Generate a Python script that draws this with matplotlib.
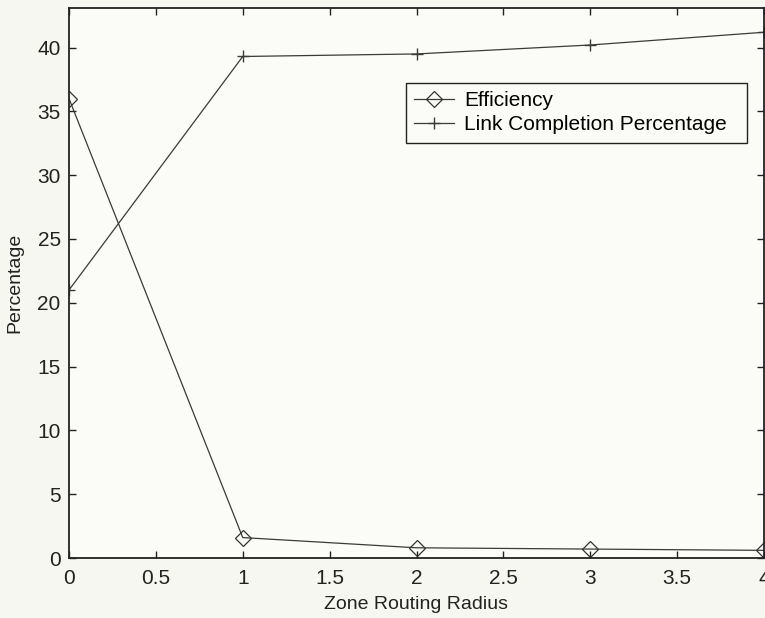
import matplotlib
matplotlib.use("Agg")
import matplotlib.pyplot as plt

# zone routing radius vs percentage
radius = [0, 1, 2, 3, 4]
efficiency = [36.0, 1.6, 0.8, 0.7, 0.6]
link_completion = [21.0, 39.3, 39.5, 40.2, 41.2]

xticks = [0, 0.5, 1, 1.5, 2, 2.5, 3, 3.5, 4]
yticks = [0, 5, 10, 15, 20, 25, 30, 35, 40]

plt.rcParams['font.family'] = ['Liberation Sans', 'DejaVu Sans']

fig = plt.figure(figsize=(7.65, 6.18), dpi=100, facecolor='#f7f7f2')
ax = fig.add_axes([69 / 765, 1 - 558 / 618, 695 / 765, 550 / 618])
ax.set_facecolor('#fbfbf7')

ax.plot(radius, efficiency, color='#3a3a3a', lw=0.9, marker='D',
        markersize=8, markerfacecolor='none', markeredgecolor='#333333',
        markeredgewidth=0.9, label='Efficiency')
ax.plot(radius, link_completion, color='#3a3a3a', lw=0.9, marker='+',
        markersize=8, markeredgewidth=1.0, label='Link Completion Percentage')

ax.set_xlim(0, 4)
ax.set_ylim(0, 43.1)
ax.set_xticks(xticks)
ax.set_xticklabels(['0', '0.5', '1', '1.5', '2', '2.5', '3', '3.5', '4'])
ax.set_yticks(yticks)
ax.tick_params(direction='in', top=True, right=True, length=5, width=1,
               labelsize=15, colors='#222222', pad=6)
ax.tick_params(axis='x', pad=8)
for s in ax.spines.values():
    s.set_linewidth(1.3)
    s.set_color('#222222')

ax.set_xlabel('Zone Routing Radius', fontsize=14, color='#222222', labelpad=6)
ax.set_ylabel('Percentage', fontsize=14, color='#222222', labelpad=10)

leg = ax.legend(loc='upper left', bbox_to_anchor=(0.485, 0.754, 0.49, 0.11),
                mode='expand', fontsize=15,
                frameon=True, fancybox=False, edgecolor='#222222',
                framealpha=1, facecolor='#fbfbf7', borderpad=0.4,
                handlelength=1.9, handletextpad=0.5, labelspacing=0.25,
                borderaxespad=0)
leg.get_frame().set_linewidth(1.0)

fig.savefig('out.png', dpi=100, facecolor=fig.get_facecolor())
